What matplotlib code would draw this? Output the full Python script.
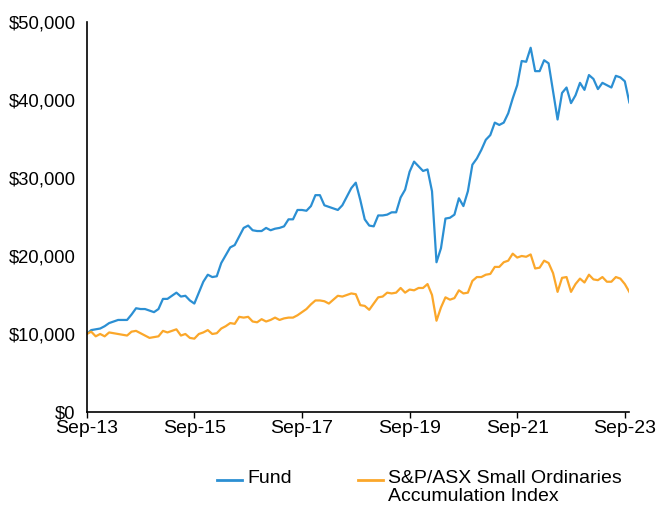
import numpy as np
import pandas as pd
import matplotlib
matplotlib.use("Agg")
import matplotlib.pyplot as plt
from matplotlib.lines import Line2D
from matplotlib.ticker import FuncFormatter

# ── Data (growth of $10,000, monthly) ────────────────────────────────────────

fund = [
    10.0, 10.5, 10.6, 10.7, 11.0, 11.4, 11.6, 11.8, 11.8, 11.8,
    12.5, 13.3, 13.2, 13.2, 13.0, 12.8, 13.2, 14.5, 14.5, 14.9,
    15.3, 14.8, 14.9, 14.3, 13.9, 15.3, 16.7, 17.6, 17.3, 17.4,
    19.1, 20.1, 21.1, 21.4, 22.5, 23.6, 23.9, 23.3, 23.2, 23.2,
    23.6, 23.3, 23.5, 23.6, 23.8, 24.7, 24.7, 25.9, 25.9, 25.8,
    26.4, 27.8, 27.8, 26.5, 26.3, 26.1, 25.9, 26.5, 27.6, 28.7,
    29.4, 27.2, 24.7, 23.9, 23.8, 25.2, 25.2, 25.3, 25.6, 25.6,
    27.5, 28.5, 30.8, 32.1, 31.5, 30.9, 31.1, 28.3, 19.2, 21.0,
    24.8, 24.9, 25.3, 27.4, 26.4, 28.3, 31.7, 32.5, 33.6, 34.9,
    35.5, 37.1, 36.8, 37.1, 38.3, 40.2, 41.9, 45.0, 44.9, 46.7,
    43.7, 43.7, 45.1, 44.7, 41.1, 37.5, 40.9, 41.6, 39.6, 40.6,
    42.2, 41.3, 43.2, 42.7, 41.4, 42.2, 41.9, 41.6, 43.1, 42.9,
    42.4, 39.7,
]

index_ = [
    10.0, 10.3, 9.7, 10.0, 9.7, 10.2, 10.1, 10.0, 9.9, 9.8,
    10.3, 10.4, 10.1, 9.8, 9.5, 9.6, 9.7, 10.4, 10.2, 10.4,
    10.6, 9.8, 10.0, 9.5, 9.4, 10.0, 10.2, 10.5, 10.0, 10.1,
    10.7, 11.0, 11.4, 11.3, 12.2, 12.1, 12.2, 11.6, 11.5, 11.9,
    11.6, 11.8, 12.1, 11.8, 12.0, 12.1, 12.1, 12.4, 12.8, 13.2,
    13.8, 14.3, 14.3, 14.2, 13.9, 14.4, 14.9, 14.8, 15.0, 15.2,
    15.1, 13.7, 13.6, 13.1, 13.9, 14.7, 14.8, 15.3, 15.2, 15.3,
    15.9, 15.3, 15.7, 15.6, 15.9, 15.9, 16.4, 15.0, 11.7, 13.4,
    14.7, 14.4, 14.6, 15.6, 15.2, 15.3, 16.8, 17.3, 17.3, 17.6,
    17.7, 18.6, 18.6, 19.2, 19.4, 20.3, 19.8, 20.0, 19.9, 20.2,
    18.4, 18.5, 19.4, 19.1, 17.8, 15.4, 17.2, 17.3, 15.4, 16.4,
    17.1, 16.6, 17.6, 17.0, 16.9, 17.3, 16.7, 16.7, 17.3, 17.1,
    16.4, 15.4,
]

tick_labels = ["Sep-13", "Sep-15", "Sep-17", "Sep-19", "Sep-21", "Sep-23"]
fund_label  = "Fund"
index_label = "S&P/ASX Small Ordinaries\nAccumulation Index"

# ── Style ────────────────────────────────────────────────────────────────────

BLUE   = "#2b8fd3"
ORANGE = "#fba72a"
FONT   = 14

plt.rcParams["font.family"] = ["Liberation Sans", "DejaVu Sans"]

# ── Plot ─────────────────────────────────────────────────────────────────────

months  = np.arange(len(fund))
fund_v  = np.array(fund) * 1000
index_v = np.array(index_) * 1000

fig = plt.figure(figsize=(6.58, 5.07), dpi=100)
ax  = fig.add_axes([0.1318, 0.1874, 0.8246, 0.7692])

ax.plot(months, fund_v, color=BLUE, lw=1.6, solid_joinstyle="round")
ax.plot(months, index_v, color=ORANGE, lw=1.6, solid_joinstyle="round")

ax.set_xlim(0, len(fund) - 1)
ax.set_ylim(0, 50000)
ax.set_xticks(np.arange(0, 121, 24))
ax.set_xticklabels(tick_labels)
ax.set_yticks(np.arange(0, 50001, 10000))
ax.yaxis.set_major_formatter(FuncFormatter(lambda v, _: f"${v:,.0f}"))

for side in ("top", "right"):
    ax.spines[side].set_visible(False)
for side in ("left", "bottom"):
    ax.spines[side].set_linewidth(1.2)
    ax.spines[side].set_color("black")

ax.tick_params(axis="x", length=4, width=1, labelsize=FONT, pad=2, colors="black")
ax.tick_params(axis="y", length=0, labelsize=13.3, pad=8, colors="black")

# ── Legend (handle sits on first text line) ──────────────────────────────────

def legend_entry(x0, y, color, text):
    fig.add_artist(Line2D([x0 / 658, (x0 + 25) / 658], [1 - y / 507] * 2,
                          color=color, lw=2, transform=fig.transFigure))
    fig.text((x0 + 30) / 658, 1 - (y - 10) / 507, text, fontsize=FONT,
             va="top", ha="left", linespacing=1.05)

legend_entry(217, 480, BLUE, fund_label)
legend_entry(358, 480, ORANGE, index_label)

fig.savefig("out.png", dpi=100)
